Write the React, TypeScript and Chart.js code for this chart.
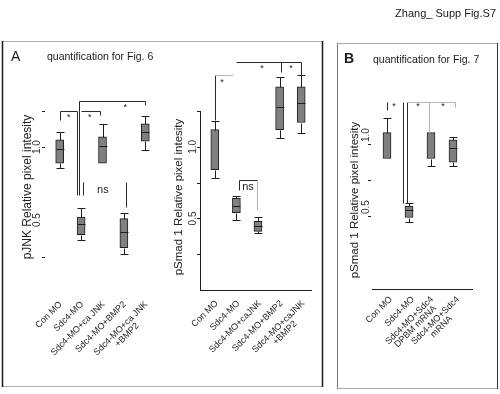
import React, { useEffect, useRef } from "react";
import { Chart, registerables } from "chart.js";

Chart.register(...registerables);

const FONT = '"Liberation Sans", Arial, Helvetica, sans-serif';

// ---------- Panel A, left: pJNK ----------
const pjnkLabels = [["Con MO"], ["Sdc4-MO"], ["Sdc4-MO+ca JNK"], ["Sdc4-MO+BMP2"], ["Sdc4-MO+ca JNK", "+BMP2"]];
const pjnkMin = [0.86, 0.36, 0.89, 0.27, 0.98];
const pjnkQ1 = [0.89, 0.40, 0.89, 0.31, 1.04];
const pjnkMedian = [0.99, 0.47, 1.01, 0.42, 1.10];
const pjnkQ3 = [1.05, 0.52, 1.07, 0.51, 1.16];
const pjnkMax = [1.10, 0.58, 1.16, 0.55, 1.21];
const pjnkTickMarks = [0.25, 1.0, 1.25];
const pjnkTickValues = [0.5, 1.0];
const pjnkTickTexts = ["0.5", "1.0"];
// brackets: [catFrom, valueFrom, catTo, valueTo]
const pjnkDarkLines = [
  [0, 1.185, 0, 1.247],
  [0, 1.247, 0.8, 1.247],
  [0.8, 1.247, 0.8, 0.671],
  [0.9, 1.315, 0.9, 0.671],
  [0.9, 1.315, 4, 1.315],
  [4, 1.315, 4, 1.288],
  [0.99, 1.247, 1.88, 1.247],
  [1.88, 1.247, 1.88, 1.219],
  [1.08, 0.76, 1.08, 0.671],
  [3.1, 0.76, 3.1, 0.589],
];
const pjnkLightLines: number[][] = [];
const pjnkMarkTexts = ["*", "*", "*", "ns"];
const pjnkMarkCats = [0.42, 1.41, 3.06, 2.02];
const pjnkMarkValues = [1.2, 1.2, 1.274, 0.705];

// ---------- Panel A, right: pSmad 1 ----------
const psmadLabels = [["Con MO"], ["Sdc4-MO"], ["Sdc4-MO+caJNK"], ["Sdc4-MO+BMP2"], ["Sdc4-MO+caJNK", "+BMP2"]];
const psmadMin = [0.78, 0.49, 0.40, 1.06, 1.10];
const psmadQ1 = [0.84, 0.54, 0.41, 1.12, 1.17];
const psmadMedian = [null, 0.59, 0.45, 1.28, 1.31];
const psmadQ3 = [1.12, 0.64, 0.48, 1.42, 1.42];
const psmadMax = [1.18, 0.66, 0.51, 1.49, 1.50];
const psmadTickMarks = [0.25, 0.5, 0.75, 1.0, 1.25];
const psmadTickValues = [0.5, 1.0];
const psmadTickTexts = ["0.5", "1.0"];
const psmadDarkLines = [
  [0, 1.19, 0, 1.50],
  [0.977, 1.59, 4, 1.59],
  [4, 1.59, 4, 1.50],
  [3.07, 1.59, 3.07, 1.52],
  [1.116, 0.70, 1.116, 0.77],
  [1.116, 0.77, 1.95, 0.77],
];
const psmadLightLines = [
  [0, 1.50, 0.84, 1.50],
  [1.95, 0.77, 1.95, 0.56],
];
const psmadMarkTexts = ["*", "*", "*", "ns"];
const psmadMarkCats = [0.33, 2.19, 3.53, 1.54];
const psmadMarkValues = [1.45, 1.55, 1.55, 0.72];

// ---------- Panel B: pSmad 1 ----------
const bLabels = [["Con MO"], ["Sdc4-MO"], ["Sdc4-MO+Sdc4", "DPBM mRNA"], ["Sdc4-MO+Sdc4", "mRNA"]];
const bMin = [0.90, 0.46, 0.85, 0.85];
const bQ1 = [0.90, 0.49, 0.90, 0.875];
const bMedian = [null, 0.54, null, 0.97];
const bQ3 = [1.08, 0.57, 1.08, 1.03];
const bMax = [1.18, 0.59, 1.08, 1.05];
const bTickMarks = [0.5, 0.75, 1.0];
const bTickValues = [0.5, 1.0];
const bTickTexts = ["0.5", "1.0"];
const bDarkLines = [
  [0, 1.24, 0, 1.29],
  [0.727, 1.29, 0.727, 0.59],
  [0.909, 1.29, 0.909, 0.59],
];
const bLightLines = [
  [0.909, 1.29, 3.09, 1.29],
  [1.91, 1.29, 1.91, 1.08],
  [3.09, 1.29, 3.09, 1.26],
];
const bMarkTexts = ["*", "*", "*"];
const bMarkCats = [0.32, 1.41, 2.55];
const bMarkValues = [1.26, 1.26, 1.26];

type Spec = {
  labels: string[][];
  min: number[]; q1: number[]; median: (number | null)[]; q3: number[]; max: number[];
  tickMarks: number[]; tickValues: number[]; tickTexts: string[];
  dark: number[][]; light: number[][];
  markTexts: string[]; markCats: number[]; markValues: number[];
  yMax: number;
  padding: { left: number; right: number; top: number; bottom: number };
  yTitle: string; yTitleDx: number; yTitleDy: number; yTitleSize: number;
  tickDx: number; tickLabelDx: number; tickLabelDy: number;
  xLabelDx: number; xLabelDy: number; xLabelSize: number; xLabelLine: number;
  xLabelShift: number[];
  yAxisLine: null | { dx: number; top: number };
  xAxisLine: null | { dy: number; left: number; right: number };
  panel: (ctx: CanvasRenderingContext2D) => void;
};

function hline(ctx: CanvasRenderingContext2D, x1: number, x2: number, y: number) {
  ctx.beginPath();
  ctx.moveTo(x1, y);
  ctx.lineTo(x2, y);
  ctx.stroke();
}
function vline(ctx: CanvasRenderingContext2D, x: number, y1: number, y2: number) {
  ctx.beginPath();
  ctx.moveTo(x, y1);
  ctx.lineTo(x, y2);
  ctx.stroke();
}

function makePlugin(s: Spec) {
  return {
    id: "boxdeco",
    afterDatasetsDraw(chart: any) {
      const ctx: CanvasRenderingContext2D = chart.ctx;
      const xs = chart.scales.x;
      const ys = chart.scales.y;
      const py = (v: number) => Math.round(ys.getPixelForValue(v)) + 0.5;
      const px = (c: number) => Math.round(xs.getPixelForValue(c)) + 0.5;
      ctx.save();
      ctx.strokeStyle = "#1e1e1e";
      ctx.lineWidth = 1;
      const half = 4;
      s.q1.forEach((_, i) => {
        const x = px(i);
        if (s.max[i] > s.q3[i]) {
          vline(ctx, x, py(s.q3[i]), py(s.max[i]));
          hline(ctx, x - half, x + half, py(s.max[i]));
        }
        if (s.min[i] < s.q1[i]) {
          vline(ctx, x, py(s.q1[i]), py(s.min[i]));
          hline(ctx, x - half, x + half, py(s.min[i]));
        }
        const m = s.median[i];
        if (m !== null) hline(ctx, x - half, x + half, py(m));
      });
      // brackets
      ctx.strokeStyle = "#2a2a2a";
      s.dark.forEach((l) => {
        ctx.beginPath();
        ctx.moveTo(px(l[0]), py(l[1]));
        ctx.lineTo(px(l[2]), py(l[3]));
        ctx.stroke();
      });
      ctx.strokeStyle = "#b4b4b4";
      s.light.forEach((l) => {
        ctx.beginPath();
        ctx.moveTo(px(l[0]), py(l[1]));
        ctx.lineTo(px(l[2]), py(l[3]));
        ctx.stroke();
      });
      ctx.fillStyle = "#222";
      ctx.textAlign = "center";
      ctx.textBaseline = "middle";
      s.markTexts.forEach((t, i) => {
        ctx.font = t === "*" ? `9px ${FONT}` : `11px ${FONT}`;
        ctx.fillText(t, xs.getPixelForValue(s.markCats[i]), ys.getPixelForValue(s.markValues[i]));
      });
      ctx.restore();
    },
    afterDraw(chart: any) {
      const ctx: CanvasRenderingContext2D = chart.ctx;
      const xs = chart.scales.x;
      const ys = chart.scales.y;
      const area = chart.chartArea;
      ctx.save();
      ctx.strokeStyle = "#1e1e1e";
      ctx.lineWidth = 1;
      // axis lines
      if (s.yAxisLine) {
        const x = Math.round(area.left + s.yAxisLine.dx) + 0.5;
        vline(ctx, x, Math.round(ys.getPixelForValue(s.yAxisLine.top)), area.bottom + 1);
      }
      if (s.xAxisLine) {
        const y = Math.round(area.bottom + s.xAxisLine.dy) + 0.5;
        hline(ctx, area.left + s.xAxisLine.left, area.right + s.xAxisLine.right, y);
      }
      // tick marks
      s.tickMarks.forEach((v) => {
        const y = Math.round(ys.getPixelForValue(v)) + 0.5;
        const x = area.left + s.tickDx;
        hline(ctx, x, x + 3, y);
      });
      ctx.fillStyle = "#333";
      ctx.font = `10px ${FONT}`;
      ctx.textAlign = "center";
      ctx.textBaseline = "middle";
      s.tickValues.forEach((v, i) => {
        ctx.save();
        ctx.translate(area.left + s.tickLabelDx, ys.getPixelForValue(v) + s.tickLabelDy);
        ctx.rotate(-Math.PI / 2);
        ctx.fillText(s.tickTexts[i], 0, 0);
        ctx.restore();
      });
      // y title
      ctx.save();
      ctx.fillStyle = "#222";
      ctx.font = `${s.yTitleSize}px ${FONT}`;
      ctx.translate(area.left + s.yTitleDx, area.bottom + s.yTitleDy);
      ctx.rotate(-Math.PI / 2);
      ctx.fillText(s.yTitle, 0, 0);
      ctx.restore();
      // x labels
      ctx.fillStyle = "#222";
      ctx.font = `${s.xLabelSize}px ${FONT}`;
      s.labels.forEach((lines, i) => {
        const w = Math.max(...lines.map((l) => ctx.measureText(l).width));
        ctx.save();
        ctx.translate(xs.getPixelForValue(i) + s.xLabelDx + (s.xLabelShift[i] || 0), area.bottom + s.xLabelDy);
        ctx.rotate(-Math.PI / 4);
        ctx.textAlign = "center";
        lines.forEach((l, j) => ctx.fillText(l, -w / 2, j * s.xLabelLine));
        ctx.restore();
      });
      s.panel(ctx);
      ctx.restore();
    },
  };
}

function makeConfig(s: Spec): any {
  return {
    type: "bar",
    data: {
      labels: s.labels.map((l) => l.join(" ")),
      datasets: [
        {
          data: s.q1.map((v, i) => [v, s.q3[i]]),
          backgroundColor: "#808080",
          borderColor: "#1e1e1e",
          borderWidth: 1,
          borderSkipped: false,
          barThickness: 8,
        },
      ],
    },
    options: {
      responsive: false,
      maintainAspectRatio: false,
      animation: false,
      devicePixelRatio: 1,
      layout: { padding: s.padding },
      plugins: { legend: { display: false }, tooltip: { enabled: false }, title: { display: false } },
      scales: {
        x: { display: false, offset: true },
        y: { display: false, min: 0, max: s.yMax },
      },
    },
    plugins: [makePlugin(s)],
  };
}

const panelA = (ctx: CanvasRenderingContext2D) => {
  ctx.save();
  ctx.lineWidth = 1;
  ctx.strokeStyle = "#b0b0b0";
  hline(ctx, 2, 323, 41.5);
  hline(ctx, 2, 323, 386.5);
  ctx.strokeStyle = "#1a1a1a";
  ctx.lineWidth = 1.5;
  vline(ctx, 2.5, 41, 387);
  vline(ctx, 322.5, 41, 387);
  ctx.fillStyle = "#1a1a1a";
  ctx.textBaseline = "middle";
  ctx.textAlign = "left";
  ctx.font = `14px ${FONT}`;
  ctx.fillText("A", 11, 57);
  ctx.font = `10.5px ${FONT}`;
  ctx.fillText("quantification for Fig. 6", 47, 57);
  ctx.font = `11px ${FONT}`;
  ctx.textAlign = "right";
  ctx.fillText("Zhang_ Supp Fig.S7", 496, 14);
  ctx.restore();
};

const panelB = (ctx: CanvasRenderingContext2D) => {
  ctx.save();
  ctx.lineWidth = 1;
  ctx.strokeStyle = "#a8a8a8";
  hline(ctx, 337, 498, 43.5);
  hline(ctx, 337, 498, 388.5);
  ctx.strokeStyle = "#777";
  vline(ctx, 337.5, 43, 389);
  ctx.strokeStyle = "#333";
  vline(ctx, 497.5, 43, 389);
  ctx.fillStyle = "#1a1a1a";
  ctx.textBaseline = "middle";
  ctx.textAlign = "left";
  ctx.font = `bold 14px ${FONT}`;
  ctx.fillText("B", 344, 59);
  ctx.font = `10.5px ${FONT}`;
  ctx.fillText("quantification for Fig. 7", 373, 60);
  ctx.restore();
};

const specA1: Spec = {
  labels: pjnkLabels, min: pjnkMin, q1: pjnkQ1, median: pjnkMedian, q3: pjnkQ3, max: pjnkMax,
  tickMarks: pjnkTickMarks, tickValues: pjnkTickValues, tickTexts: pjnkTickTexts,
  dark: pjnkDarkLines, light: pjnkLightLines,
  markTexts: pjnkMarkTexts, markCats: pjnkMarkCats, markValues: pjnkMarkValues,
  yMax: 1.35,
  padding: { left: 49, right: 344, top: 96, bottom: 101 },
  yTitle: "pJNK Relative pixel intesity", yTitleDx: -21, yTitleDy: -106, yTitleSize: 12,
  tickDx: -7, tickLabelDx: -12, tickLabelDy: 0,
  xLabelDx: 1, xLabelDy: 10, xLabelSize: 9, xLabelLine: 9, xLabelShift: [],
  yAxisLine: null, xAxisLine: null,
  panel: panelA,
};

const specA2: Spec = {
  labels: psmadLabels, min: psmadMin, q1: psmadQ1, median: psmadMedian, q3: psmadQ3, max: psmadMax,
  tickMarks: psmadTickMarks, tickValues: psmadTickValues, tickTexts: psmadTickTexts,
  dark: psmadDarkLines, light: psmadLightLines,
  markTexts: psmadMarkTexts, markCats: psmadMarkCats, markValues: psmadMarkValues,
  yMax: 1.6,
  padding: { left: 204, right: 188, top: 61, bottom: 104 },
  yTitle: "pSmad 1 Relative pixel intesity", yTitleDx: -25, yTitleDy: -93, yTitleSize: 11.5,
  tickDx: -7, tickLabelDx: -11, tickLabelDy: 0,
  xLabelDx: 2, xLabelDy: 12, xLabelSize: 9, xLabelLine: 9, xLabelShift: [],
  yAxisLine: { dx: -4, top: 1.25 }, xAxisLine: { dy: 0, left: -4, right: 0 },
  panel: () => {},
};

const specB: Spec = {
  labels: bLabels, min: bMin, q1: bQ1, median: bMedian, q3: bQ3, max: bMax,
  tickMarks: bTickMarks, tickValues: bTickValues, tickTexts: bTickTexts,
  dark: bDarkLines, light: bLightLines,
  markTexts: bMarkTexts, markCats: bMarkCats, markValues: bMarkValues,
  yMax: 1.3,
  padding: { left: 376, right: 36, top: 101, bottom: 106 },
  yTitle: "pSmad 1 Relative pixel intesity", yTitleDx: -21, yTitleDy: -88, yTitleSize: 11.5,
  tickDx: -8, tickLabelDx: -10, tickLabelDy: -9,
  xLabelDx: 4, xLabelDy: 10, xLabelSize: 9, xLabelLine: 8.5, xLabelShift: [0, 0, -3, 1],
  yAxisLine: null, xAxisLine: { dy: 1, left: -4, right: 9 },
  panel: panelB,
};

function BoxChart({ spec }: { spec: Spec }) {
  const ref = useRef<HTMLCanvasElement | null>(null);
  useEffect(() => {
    if (!ref.current) return;
    const chart = new Chart(ref.current, makeConfig(spec));
    return () => chart.destroy();
  }, [spec]);
  return (
    <canvas
      ref={ref}
      width={500}
      height={394}
      style={{ position: "absolute", left: 0, top: 0, width: 500, height: 394 }}
    />
  );
}

export default function App() {
  return (
    <div style={{ position: "fixed", left: 0, top: 0, width: 500, height: 394, background: "#fff", overflow: "hidden" }}>
      <BoxChart spec={specA1} />
      <BoxChart spec={specA2} />
      <BoxChart spec={specB} />
    </div>
  );
}
